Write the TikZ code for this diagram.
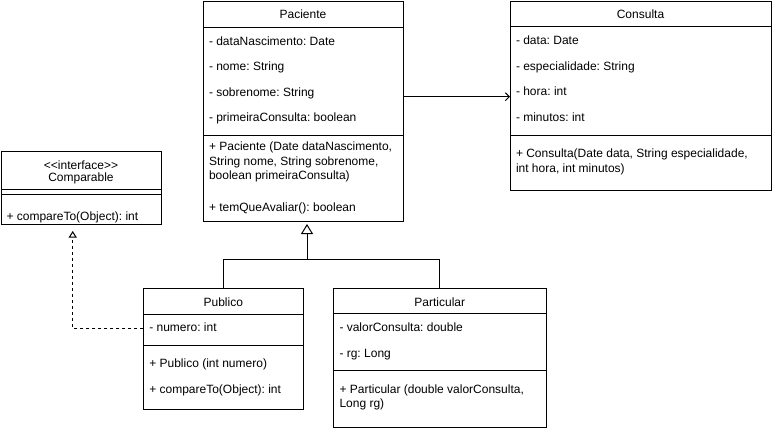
\documentclass[tikz,border=0pt]{standalone}
\usepackage{fontspec}
\setmainfont{Liberation Sans}
\usetikzlibrary{arrows.meta}
\frenchspacing
\begin{document}
\begin{tikzpicture}[x=1pt,y=-1pt,line width=1pt,
  umlbox/.style={draw=black,fill=white,anchor=north west,inner sep=0pt,outer sep=0pt},
  lbl/.style={anchor=base west,inner sep=0pt,font=\fontsize{12}{14}\selectfont},
  ttl/.style={anchor=base,inner sep=0pt,font=\fontsize{12}{14}\selectfont},
  gen/.style={-{Triangle[open,length=10pt,width=12pt]},line width=1pt},
  realz/.style={-{Triangle[open,length=6.5pt,width=8pt]},dash pattern=on 3pt off 3pt},
  assoc/.style={-{Straight Barb[length=4pt,width=8pt]}}]
\useasboundingbox (0,0) rectangle (772,432);

% ---------- Paciente ----------
\node[umlbox,minimum width=200pt,minimum height=220pt] (paciente) at (203,1) {};
\draw (paciente.west |- 0,27) -- (paciente.east |- 0,27);
\draw (paciente.west |- 0,135) -- (paciente.east |- 0,135);
\node[ttl] (pact) at (303,18) {Paciente};
\node[lbl] (pa1) at (208.5,45) {- dataNascimento: Date};
\node[lbl] (pa2) at (208.5,70.5) {- nome: String};
\node[lbl] (pa3) at (208.5,96) {- sobrenome: String};
\node[lbl] (pa4) at (208.5,121.5) {- primeiraConsulta: boolean};
\node[lbl] (pm1a) at (208.5,150.5) {+ Paciente (Date dataNascimento,};
\node[lbl] (pm1b) at (208.5,165) {String nome, String sobrenome,};
\node[lbl] (pm1c) at (208.5,179.5) {boolean primeiraConsulta)};
\node[lbl] (pm2) at (208.5,211.5) {+ temQueAvaliar(): boolean};

% ---------- Consulta ----------
\node[umlbox,minimum width=261pt,minimum height=189pt] (consulta) at (510,1) {};
\draw (consulta.west |- 0,26) -- (consulta.east |- 0,26);
\draw (consulta.west |- 0,135) -- (consulta.east |- 0,135);
\node[ttl] (cont) at (640.5,18) {Consulta};
\node[lbl] (ca1) at (515.5,44.5) {- data: Date};
\node[lbl] (ca2) at (515.5,70) {- especialidade: String};
\node[lbl] (ca3) at (515.5,95.5) {- hora: int};
\node[lbl] (ca4) at (515.5,121) {- minutos: int};
\node[lbl] (cm1a) at (515.5,157.5) {+ Consulta(Date data, String especialidade,};
\node[lbl] (cm1b) at (515.5,172) {int hora, int minutos)};

% ---------- Comparable ----------
\node[umlbox,minimum width=160.5pt,minimum height=73pt] (comparable) at (1,151) {};
\draw (comparable.west |- 0,189.5) -- (comparable.east |- 0,189.5);
\draw (comparable.west |- 0,194) -- (comparable.east |- 0,194);
\node[ttl] (cmpst) at (81,169.3) {<\kern0pt<interface>\kern0pt>};
\node[ttl] (cmpt) at (81,181.7) {Comparable};
\node[lbl] (cmpm) at (6,220) {+ compareTo(Object): int};

% ---------- Publico ----------
\node[umlbox,minimum width=160pt,minimum height=120.5pt] (publico) at (143.3,288.5) {};
\draw (publico.west |- 0,314) -- (publico.east |- 0,314);
\draw (publico.west |- 0,345) -- (publico.east |- 0,345);
\node[ttl] (pubt) at (223.3,306) {Publico};
\node[lbl] (puba) at (148.8,331.7) {- numero: int};
\node[lbl] (pubm1) at (148.8,367) {+ Publico (int numero)};
\node[lbl] (pubm2) at (148.8,393.5) {+ compareTo(Object): int};

% ---------- Particular ----------
\node[umlbox,minimum width=212.5pt,minimum height=138.5pt] (particular) at (333.5,288.5) {};
\draw (particular.west |- 0,313.5) -- (particular.east |- 0,313.5);
\draw (particular.west |- 0,370) -- (particular.east |- 0,370);
\node[ttl] (part) at (439.8,306) {Particular};
\node[lbl] (para1) at (339,331.7) {- valorConsulta: double};
\node[lbl] (para2) at (339,357) {- rg: Long};
\node[lbl] (parm1a) at (339,393.5) {+ Particular (double valorConsulta,};
\node[lbl] (parm1b) at (339,407) {Long rg)};

% ---------- connectors ----------
\coordinate (gj) at (307,259);
\coordinate (arow) at (0,96.7);
\coordinate (drow) at (0,328.3);
\coordinate (dcol) at (72.7,0);

\draw[gen,shorten >=3pt] (publico.north) |- (gj) -- (paciente.south -| gj);
\draw (particular.north) |- (gj);
\draw[realz,shorten >=7pt] (publico.west |- drow) -| (comparable.south -| dcol);
\draw[assoc] (paciente.east |- arow) -- (consulta.west |- arow);
\end{tikzpicture}
\end{document}
